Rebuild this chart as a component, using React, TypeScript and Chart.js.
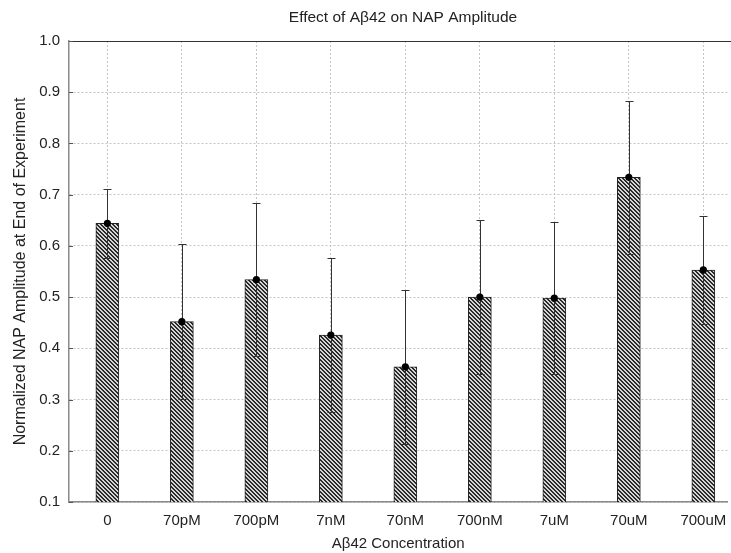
import React, { useEffect, useRef } from "react";
import { Chart, registerables } from "chart.js";

Chart.register(...registerables);

const categories = ["0", "70pM", "700pM", "7nM", "70nM", "700nM", "7uM", "70uM", "700uM"];
const means = [0.644, 0.452, 0.534, 0.426, 0.364, 0.5, 0.498, 0.734, 0.553];
const errors = [0.067, 0.151, 0.149, 0.15, 0.15, 0.15, 0.149, 0.149, 0.106];
const yTicks = [0.1, 0.2, 0.3, 0.4, 0.5, 0.6, 0.7, 0.8, 0.9, 1.0];

const chartTitle = "Effect of A\u03b242 on NAP Amplitude";
const xTitle = "A\u03b242 Concentration";
const yTitle = "Normalized NAP Amplitude at End of Experiment";

const FONT = "'Liberation Sans', Arial, sans-serif";
const TEXT = "#222222";

function makeHatch(): CanvasPattern | string {
  const c = document.createElement("canvas");
  c.width = 4;
  c.height = 4;
  const g = c.getContext("2d");
  if (!g) return "#777";
  g.fillStyle = "#d6d6d6";
  g.fillRect(0, 0, 4, 4);
  g.fillStyle = "#2a2a2a";
  for (let y = 0; y < 4; y++) {
    for (let x = 0; x < 4; x++) {
      const d = (((x - y) % 4) + 4) % 4;
      if (d < 2) g.fillRect(x, y, 1, 1);
    }
  }
  const p = g.createPattern(c, "repeat");
  return p || "#777";
}

const errorBarPlugin = {
  id: "errorBars",
  afterDatasetDraw(chart: any, args: any) {
    if (args.index !== 0) return;
    const { ctx, scales } = chart;
    const xs = scales.x;
    const ys = scales.y;
    ctx.save();
    ctx.strokeStyle = "#333333";
    ctx.lineWidth = 1;
    means.forEach((m, i) => {
      const x = Math.round(xs.getPixelForValue(i)) + 0.5;
      const yt = Math.round(ys.getPixelForValue(m + errors[i])) + 0.5;
      const yb = Math.round(ys.getPixelForValue(m - errors[i])) + 0.5;
      ctx.beginPath();
      ctx.moveTo(x, yt);
      ctx.lineTo(x, yb);
      ctx.moveTo(x - 4, yt);
      ctx.lineTo(x + 4, yt);
      ctx.moveTo(x - 4, yb);
      ctx.lineTo(x + 4, yb);
      ctx.stroke();
    });
    ctx.restore();
  },
};

const framePlugin = {
  id: "frame",
  afterDraw(chart: any) {
    const { ctx, chartArea, scales } = chart;
    ctx.save();
    ctx.strokeStyle = "#333333";
    ctx.lineWidth = 1;
    ctx.beginPath();
    ctx.moveTo(chartArea.left, Math.round(chartArea.top) + 0.5);
    ctx.lineTo(chart.width, Math.round(chartArea.top) + 0.5);
    ctx.stroke();
    ctx.strokeStyle = "#555555";
    ctx.beginPath();
    yTicks.forEach((v) => {
      const y = Math.round(scales.y.getPixelForValue(v)) + 0.5;
      ctx.moveTo(chartArea.left, y);
      ctx.lineTo(chartArea.left + 4, y);
    });
    ctx.stroke();
    ctx.fillStyle = TEXT;
    ctx.font = `15.5px ${FONT}`;
    ctx.textAlign = "center";
    ctx.textBaseline = "middle";
    ctx.fillText(chartTitle, (chartArea.left + chart.width) / 2 + 3, 18);
    ctx.restore();
  },
};

export default function App() {
  const ref = useRef<HTMLCanvasElement | null>(null);

  useEffect(() => {
    document.body.style.margin = "0";
    const canvas = ref.current;
    if (!canvas) return;
    const hatch = makeHatch();
    const chart = new Chart(canvas, {
      type: "bar",
      data: {
        datasets: [
          {
            type: "bar",
            data: means.map((v, i) => ({ x: i, y: v })),
            backgroundColor: hatch as any,
            borderColor: "#222222",
            borderWidth: 1,
            borderSkipped: false,
            barThickness: 23,
            order: 2,
          } as any,
          {
            type: "line",
            data: means.map((v, i) => ({ x: i, y: v })),
            showLine: false,
            pointRadius: 3.6,
            pointHoverRadius: 3.6,
            pointBackgroundColor: "#000000",
            pointBorderWidth: 0,
            order: 1,
          } as any,
        ],
      },
      options: {
        responsive: false,
        animation: false,
        events: [],
        layout: { padding: { top: 41, left: 0, right: 0, bottom: 0 } },
        plugins: {
          legend: { display: false },
          tooltip: { enabled: false },
          title: { display: false },
        },
        scales: {
          x: {
            type: "linear",
            offset: false,
            min: -0.515,
            max: 8.323,
            afterBuildTicks: (s: any) => {
              s.ticks = categories.map((_, i) => ({ value: i }));
            },
            afterFit: (s: any) => {
              s.height = 51;
              s.paddingRight = 0;
              s.paddingLeft = 0;
            },
            ticks: {
              color: TEXT,
              font: { family: FONT, size: 15 },
              padding: 10,
              maxRotation: 0,
              autoSkip: false,
              callback: (v: any) => categories[v] ?? "",
            },
            grid: { color: "#c4c4c4", lineWidth: 1, drawTicks: false, offset: false },
            border: { display: true, color: "#8a8a8a", width: 1.5, dash: [2, 2] },
            title: {
              display: true,
              text: xTitle,
              color: TEXT,
              font: { family: FONT, size: 15 },
              padding: { top: 0, bottom: 0 },
            },
          },
          y: {
            type: "linear",
            min: 0.1,
            max: 1.0,
            afterBuildTicks: (s: any) => {
              s.ticks = yTicks.map((v) => ({ value: v }));
            },
            afterFit: (s: any) => {
              s.width = 69;
            },
            ticks: {
              color: TEXT,
              font: { family: FONT, size: 15 },
              padding: 9,
              callback: (v: any) => Number(v).toFixed(1),
            },
            grid: { color: "#c4c4c4", lineWidth: 1, drawTicks: false },
            border: { display: true, color: "#8a8a8a", width: 1.5, dash: [2, 2] },
            title: {
              display: true,
              text: yTitle,
              color: TEXT,
              font: { family: FONT, size: 16 },
              padding: { top: 11, bottom: 0 },
            },
          },
        },
      },
      plugins: [errorBarPlugin, framePlugin],
    });
    return () => chart.destroy();
  }, []);

  return (
    <div style={{ width: 731, height: 553, position: "relative" }}>
      <canvas ref={ref} width={731} height={553} style={{ display: "block" }} />
    </div>
  );
}
